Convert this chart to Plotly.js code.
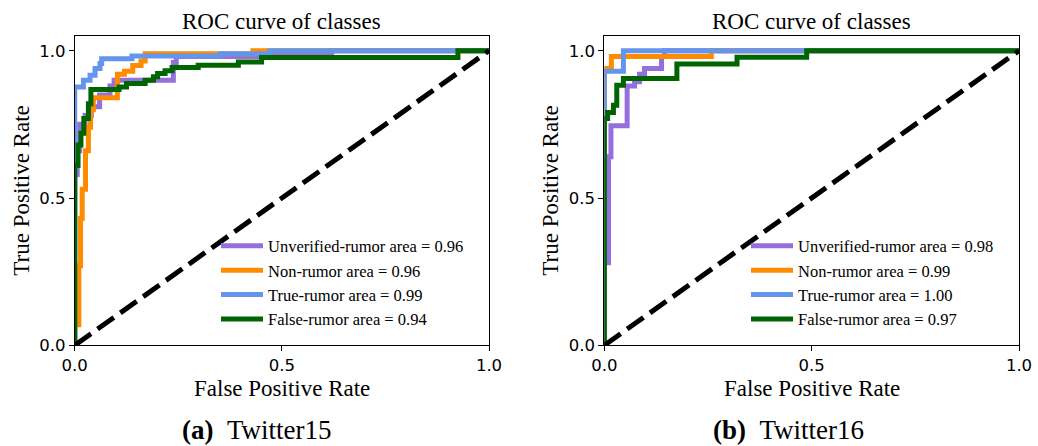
<!DOCTYPE html>
<html>
<head>
<meta charset="utf-8">
<script src="https://cdn.plot.ly/plotly-3.0.1.min.js"></script>
<style>
  html, body { margin: 0; padding: 0; background: #fff; }
  #chart { width: 1038px; height: 446px; }
</style>
</head>
<body>
<div id="chart"></div>
<script>
// Class names and their AUC scores per dataset
const classNames = ['Unverified-rumor', 'Non-rumor', 'True-rumor', 'False-rumor'];
const aucTwitter15 = ['0.96', '0.96', '0.99', '0.94'];
const aucTwitter16 = ['0.98', '0.99', '1.00', '0.97'];

// Twitter15 ROC step points (fpr, tpr) -- each point marks where the curve rises
const t15UnverifiedFpr = [0, 0, 0.006, 0.012, 0.025, 0.04, 0.06, 0.085, 0.095, 0.238, 0.245, 0.46, 0.62, 1];
const t15UnverifiedTpr = [0, 0.58, 0.66, 0.75, 0.78, 0.81, 0.85, 0.88, 0.90, 0.96, 0.98, 0.99, 1.0, 1.0];
const t15NonFpr = [0, 0, 0.01, 0.014, 0.018, 0.026, 0.033, 0.038, 0.045, 0.103, 0.12, 0.14, 0.16, 0.17, 0.43, 1];
const t15NonTpr = [0, 0.07, 0.27, 0.43, 0.53, 0.66, 0.74, 0.80, 0.84, 0.92, 0.93, 0.95, 0.965, 0.99, 1.0, 1.0];
const t15TrueFpr = [0, 0, 0.021, 0.037, 0.049, 0.061, 0.065, 0.138, 0.351, 0.471, 1];
const t15TrueTpr = [0, 0.877, 0.90, 0.917, 0.94, 0.957, 0.973, 0.982, 0.99, 1.0, 1.0];
const t15FalseFpr = [0, 0, 0.008, 0.015, 0.022, 0.033, 0.039, 0.107, 0.125, 0.17, 0.19, 0.20, 0.218, 0.235, 0.298, 0.395, 0.451, 0.925, 1];
const t15FalseTpr = [0, 0.61, 0.68, 0.72, 0.77, 0.82, 0.868, 0.877, 0.889, 0.90, 0.912, 0.923, 0.932, 0.943, 0.951, 0.962, 0.977, 1.0, 1.0];

// Twitter16 ROC step points
const t16UnverifiedFpr = [0, 0, 0.01, 0.016, 0.055, 0.073, 0.085, 0.097, 0.138, 0.145, 1];
const t16UnverifiedTpr = [0, 0.28, 0.64, 0.745, 0.88, 0.895, 0.92, 0.94, 0.98, 1.0, 1.0];
const t16NonFpr = [0, 0, 0.017, 0.258, 1];
const t16NonTpr = [0, 0.94, 0.98, 1.0, 1.0];
const t16TrueFpr = [0, 0, 0.046, 1];
const t16TrueTpr = [0, 0.93, 1.0, 1.0];
const t16FalseFpr = [0, 0, 0.008, 0.022, 0.03, 0.046, 0.175, 0.32, 0.488, 1];
const t16FalseTpr = [0, 0.77, 0.79, 0.815, 0.883, 0.906, 0.955, 0.978, 1.0, 1.0];

// Chance diagonal
const chanceX = [0, 1];
const chanceY = [0, 1];

const tickVals = [0, 0.5, 1];
const tickText = ['0.0', '0.5', '1.0'];
const panelTitle = 'ROC curve of classes';
const xTitle = 'False Positive Rate';
const yTitle = 'True Positive Rate';
const captions = [['(a)', 'Twitter15'], ['(b)', 'Twitter16']];

const colors = ['#9370DB', '#FF8C00', '#6495ED', '#006400'];
const serif = 'Liberation Serif';

function rocTrace(fpr, tpr, i, auc, xa, ya, leg) {
  return {
    x: fpr, y: tpr, type: 'scatter', mode: 'lines',
    line: { color: colors[i], width: 5, shape: 'hv' },
    name: classNames[i] + ' area = ' + auc[i],
    xaxis: xa, yaxis: ya, legend: leg, hoverinfo: 'skip'
  };
}
function chanceTrace(xa, ya) {
  return {
    x: chanceX, y: chanceY, type: 'scatter', mode: 'lines',
    line: { color: 'black', width: 5, dash: '20px,8px' },
    showlegend: false, xaxis: xa, yaxis: ya, hoverinfo: 'skip'
  };
}

const data = [
  rocTrace(t15UnverifiedFpr, t15UnverifiedTpr, 0, aucTwitter15, 'x', 'y', 'legend'),
  rocTrace(t15NonFpr, t15NonTpr, 1, aucTwitter15, 'x', 'y', 'legend'),
  rocTrace(t15TrueFpr, t15TrueTpr, 2, aucTwitter15, 'x', 'y', 'legend'),
  rocTrace(t15FalseFpr, t15FalseTpr, 3, aucTwitter15, 'x', 'y', 'legend'),
  chanceTrace('x', 'y'),
  rocTrace(t16UnverifiedFpr, t16UnverifiedTpr, 0, aucTwitter16, 'x2', 'y2', 'legend2'),
  rocTrace(t16NonFpr, t16NonTpr, 1, aucTwitter16, 'x2', 'y2', 'legend2'),
  rocTrace(t16TrueFpr, t16TrueTpr, 2, aucTwitter16, 'x2', 'y2', 'legend2'),
  rocTrace(t16FalseFpr, t16FalseTpr, 3, aucTwitter16, 'x2', 'y2', 'legend2'),
  chanceTrace('x2', 'y2')
];

const titleFont = () => ({ family: serif, size: 23, color: 'black' });

function axis(domain, range, anchor) {
  return {
    domain: domain, range: range, anchor: anchor,
    showline: true, mirror: true, linecolor: 'black', linewidth: 1,
    ticks: 'outside', ticklen: 5, tickwidth: 1, tickcolor: 'black',
    tickmode: 'array', tickvals: tickVals, ticktext: tickText,
    tickfont: { family: 'DejaVu Sans', size: 16.5, color: 'black' },
    showgrid: false, zeroline: false, fixedrange: true
  };
}
const yDomain = [0.2258, 0.9193];
const xDomainA = [0.0720, 0.4711];
const xDomainB = [0.5822, 0.9817];

function legendAt(x) {
  return {
    x: x, xanchor: 'left', y: 0.4877, yanchor: 'top',
    bgcolor: 'rgba(0,0,0,0)', borderwidth: 0, itemwidth: 42,
    font: { family: serif, size: 16.5, color: 'black' }
  };
}

const mid = d => (d[0] + d[1]) / 2;
const text = (x, y, s, extra) => Object.assign({
  xref: 'paper', yref: 'paper', x: x, y: y,
  xanchor: 'center', yanchor: 'middle', showarrow: false,
  text: s, font: titleFont()
}, extra || {});

const annotations = [];
// panel titles and axis titles
[[xDomainA, 22], [xDomainB, 551]].forEach(([dom, yTitleX]) => {
  annotations.push(text(mid(dom), 0.9529, panelTitle));
  annotations.push(text(mid(dom), 0.130, xTitle));
  annotations.push(text(yTitleX / 1038, mid(yDomain), yTitle, { textangle: -90 }));
});
// sub-figure captions
[0.248, 0.760].forEach((cx, k) => {
  annotations.push(text(cx, 0.036,
    '<b>' + captions[k][0] + '</b>\u00a0\u00a0' + captions[k][1],
    { font: { family: serif, size: 27, color: 'black' } }));
});

const layout = {
  width: 1038, height: 446,
  margin: { l: 0, r: 0, t: 0, b: 0 },
  paper_bgcolor: 'white', plot_bgcolor: 'white',
  font: { family: serif, color: 'black' },
  showlegend: true,
  xaxis: axis(xDomainA, [0, 1], 'y'),
  yaxis: axis(yDomain, [0, 1.05], 'x'),
  xaxis2: axis(xDomainB, [0, 1], 'y2'),
  yaxis2: axis(yDomain, [0, 1.05], 'x2'),
  legend: legendAt(216 / 1038),
  legend2: legendAt(746 / 1038),
  annotations: annotations
};

Plotly.newPlot('chart', data, layout, { displayModeBar: false, staticPlot: true });
</script>
</body>
</html>
